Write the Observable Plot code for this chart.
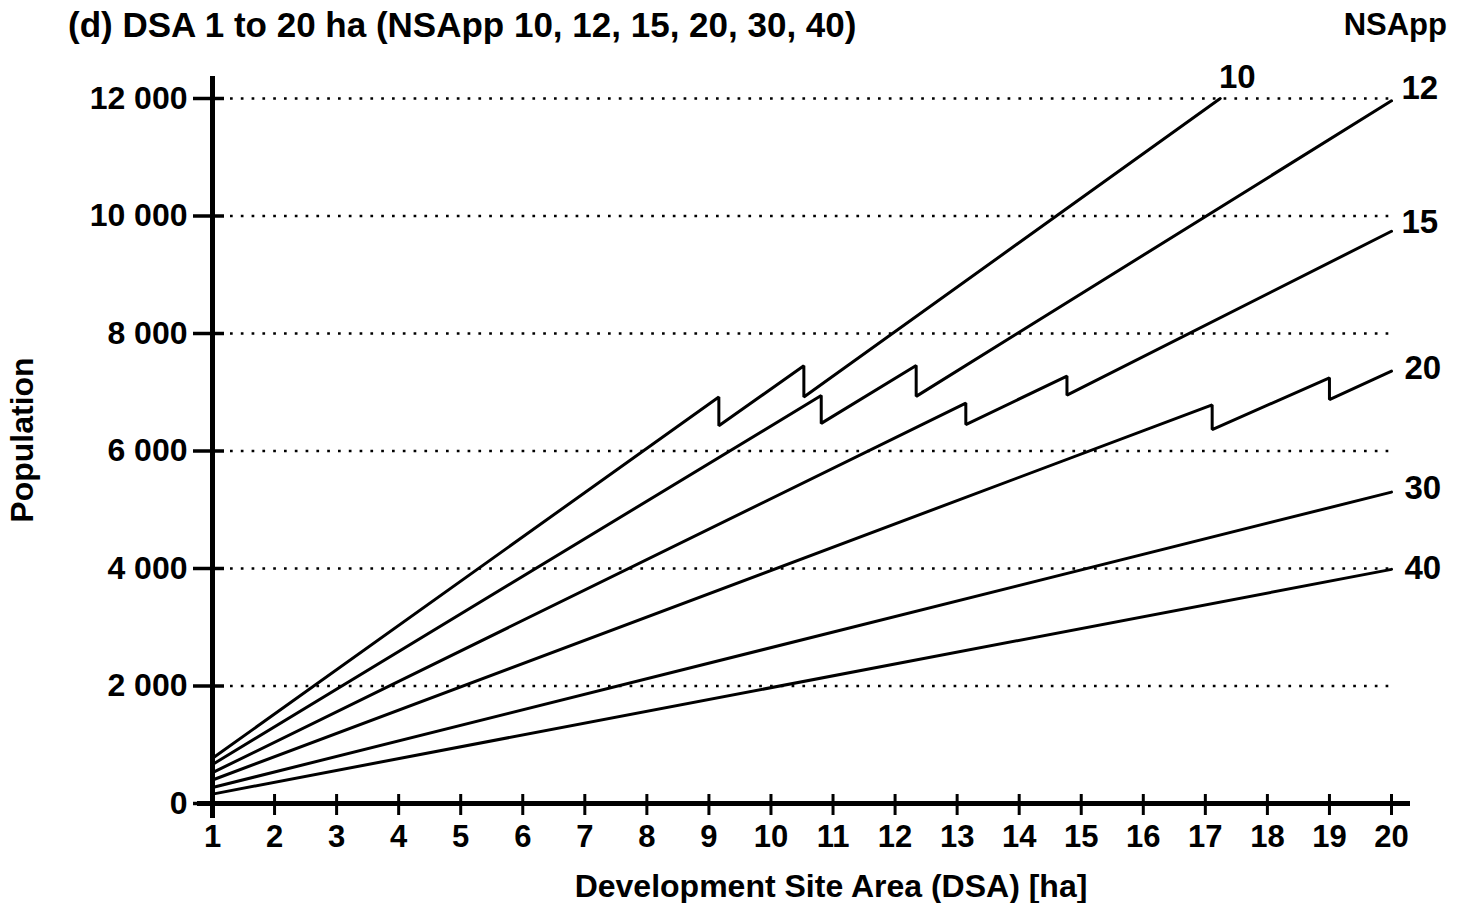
<!DOCTYPE html>
<html><head><meta charset="utf-8">
<script src="https://cdn.jsdelivr.net/npm/d3@7"></script>
<script src="https://cdn.jsdelivr.net/npm/@observablehq/plot@0.6"></script>
<style>
body{margin:0;background:#fff;color:#000;font-family:"Liberation Sans",Arial,sans-serif;font-weight:bold;}
#head{position:relative;width:1467px;height:50px;}
#title{position:absolute;left:68px;top:0;line-height:50px;font-size:35px;white-space:nowrap;}
#nsapp{position:absolute;right:20px;top:0;line-height:50px;font-size:31px;}
</style></head><body>
<div id="head"><div id="title">(d) DSA 1 to 20 ha (NSApp 10, 12, 15, 20, 30, 40)</div><div id="nsapp">NSApp</div></div>
<div id="chart"></div>
<script>
// Series: NSApp values
const series = [10, 12, 15, 20, 30, 40];
// DSA (ha) and population vertices of each line (vertical drops = repeated DSA)
const dsa10 = [1, 9.16, 9.16, 10.53, 10.53, 17.24];
const pop10 = [770, 6920, 6430, 7450, 6920, 12000];
const dsa12 = [1, 10.81, 10.81, 12.34, 12.34, 20];
const pop12 = [665, 6945, 6470, 7455, 6930, 11960];
const dsa15 = [1, 13.14, 13.14, 14.77, 14.77, 20];
const pop15 = [525, 6815, 6450, 7275, 6950, 9740];
const dsa20 = [1, 17.11, 17.11, 19.0, 19.0, 20];
const pop20 = [400, 6785, 6365, 7245, 6875, 7360];
const dsa30 = [1, 20];
const pop30 = [272, 5300];
const dsa40 = [1, 20];
const pop40 = [160, 3985];
// Tick values
const xTicks = [1,2,3,4,5,6,7,8,9,10,11,12,13,14,15,16,17,18,19,20];
const yTicks = [0, 2000, 4000, 6000, 8000, 10000, 12000];

const seriesData = [[10, dsa10, pop10], [12, dsa12, pop12], [15, dsa15, pop15],
                    [20, dsa20, pop20], [30, dsa30, pop30], [40, dsa40, pop40]];
const rows = [];
seriesData.forEach(([n, xs, ys]) => xs.forEach((x, i) => rows.push({n, dsa: x, pop: ys[i]})));
const ends = seriesData.map(([n, xs, ys]) => ({n, dsa: xs[xs.length - 1], pop: ys[ys.length - 1]}));
const gridTicks = yTicks.filter(d => d > 0);
const x0 = xTicks[0], x1 = xTicks[xTicks.length - 1];
const yMax = yTicks[yTicks.length - 1];

// label offsets (style, px)
const labelDx = [17, 10, 10, 13, 13, 13];
const labelDy = [-21, -12, -9, -3, -4, -1];
const labelAnchor = ["middle", "start", "start", "start", "start", "start"];

const fmt = d => d3.format(",")(d).replace(/,/g, " ");

const chart = Plot.plot({
  width: 1467, height: 853,
  marginLeft: 212, marginRight: 76, marginTop: 48, marginBottom: 100,
  x: {domain: [x0, x1]},
  y: {domain: [0, yMax]},
  style: {fontFamily: "Liberation Sans, Arial, sans-serif", fontSize: "30px", fontWeight: "bold", color: "black", background: "white", overflow: "visible"},
  marks: [
    Plot.ruleY(gridTicks, {y: d => d, x1: () => x0, x2: () => x1, insetLeft: 18, insetRight: -5,
      stroke: "black", strokeWidth: 2.7, strokeDasharray: "2.7,8.1"}),
    Plot.line(rows, {x: "dsa", y: "pop", z: "n", stroke: "black", strokeWidth: 3, strokeLinejoin: "miter"}),
    Plot.axisX(xTicks, {tickSize: 0, tickPadding: 21, label: null, fontSize: 31, fontWeight: "bold"}),
    Plot.axisY(yTicks, {tickSize: 0, tickPadding: 25, label: null, tickFormat: fmt, fontSize: 32, fontWeight: "bold"}),
    Plot.ruleX(xTicks, {x: d => d, y1: () => 0, y2: () => 0, insetTop: -9, insetBottom: -12, stroke: "black", strokeWidth: 3}),
    Plot.ruleY(yTicks, {y: d => d, x1: () => x0, x2: () => x0, insetLeft: -19, insetRight: -12, stroke: "black", strokeWidth: 3.5}),
    Plot.ruleX([x0], {x: d => d, y1: () => yMax, y2: () => 0, insetTop: -22, insetBottom: -15, stroke: "black", strokeWidth: 5}),
    Plot.ruleY([0], {y: d => d, x1: () => x0, x2: () => x1, insetLeft: -15, insetRight: -19, stroke: "black", strokeWidth: 5}),
    ...ends.map((e, i) => Plot.text([e], {x: "dsa", y: "pop", text: d => String(d.n),
      dx: labelDx[i], dy: labelDy[i], textAnchor: labelAnchor[i], fontSize: 33, fontWeight: "bold"})),
    Plot.text(["Development Site Area (DSA) [ha]"], {frameAnchor: "bottom", textAnchor: "middle", lineAnchor: "middle",
      dx: 29, dy: 83, fontSize: 32, fontWeight: "bold"}),
    Plot.text(["Population"], {frameAnchor: "left", textAnchor: "middle", lineAnchor: "middle",
      dx: -190, dy: -11, rotate: -90, fontSize: 32, fontWeight: "bold"})
  ]
});
document.getElementById("chart").appendChild(chart);
</script></body></html>
